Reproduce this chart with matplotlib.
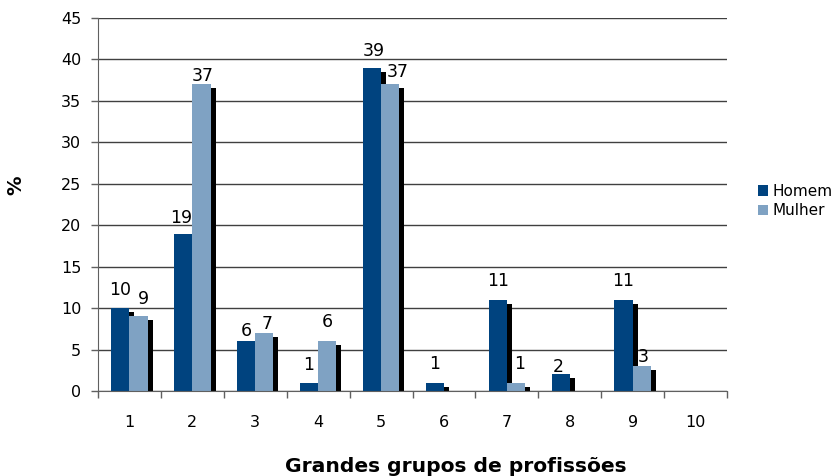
import numpy as np
import matplotlib
matplotlib.use('Agg')
import matplotlib.pyplot as plt

# grandes grupos de profissoes (1-10), % por sexo
grupos = ['1', '2', '3', '4', '5', '6', '7', '8', '9', '10']
homem = [10, 19, 6, 1, 39, 1, 11, 2, 11, 0]
mulher = [9, 37, 7, 6, 37, 0, 1, 0, 3, 0]

# label nudges in px (dx, gap above bar), the labels in the original sit unevenly
nudge_homem = [(0, 13), (-2, 11), (0, 5), (0, 13), (2, 12), (0, 14), (0, 14), (-2, 2), (0, 14), (0, 14)]
nudge_mulher = [(5, 12), (1, 3), (3, 4), (0, 14), (8, 7), (0, 14), (4, 14), (0, 14), (1, 4), (0, 14)]

cor_homem = '#00437F'
cor_mulher = '#7FA2C3'

plt.rcParams['font.family'] = ['DejaVu Sans']

fig = plt.figure(figsize=(8.34, 4.76), dpi=100)
ax = fig.add_axes([98/834, 85/476, 629/834, 373/476])

x = np.arange(len(grupos)) + 0.5
w = 0.29
dx = 5/62.9          # shadow offset (5 px to the right)
dy = 4/373*45        # shadow offset (4 px down)

# black shadows behind the bars, like old excel
for serie, off in [(homem, -w), (mulher, 0)]:
    for xi, v in zip(x, serie):
        if v > 0:
            ax.bar(xi + off + dx, max(v - dy, 0), w, align='edge', color='black', zorder=1)

ax.bar(x - w, homem, w, align='edge', color=cor_homem, zorder=2, label='Homem')
ax.bar(x, mulher, w, align='edge', color=cor_mulher, zorder=2, label='Mulher')

# value labels (zeros not shown)
px = 0.72  # points per pixel at 100 dpi
for serie, off, nudges in [(homem, -w/2, nudge_homem), (mulher, w/2, nudge_mulher)]:
    for xi, v, (nx, ny) in zip(x, serie, nudges):
        if v > 0:
            ax.annotate(str(v), (xi + off, v), xytext=(nx*px, ny*px), textcoords='offset points',
                        ha='center', va='baseline', fontsize=12.5, zorder=3)

ax.set_xlim(0, 10)
ax.set_ylim(0, 45)
ax.set_yticks(range(0, 46, 5))
ax.yaxis.grid(True, color='#404040', linewidth=1)
ax.set_axisbelow(True)

ax.set_xticks(np.arange(0, 11), minor=False)
ax.set_xticklabels([])
ax.set_xticks(x, minor=True)
ax.set_xticklabels(grupos, minor=True)
ax.tick_params(axis='x', which='major', length=5, color='#606060', width=1)
ax.tick_params(axis='x', which='minor', length=0, pad=17, labelsize=11.5)
ax.tick_params(axis='y', length=5, color='#606060', width=1, pad=7, labelsize=11.5)

for s in ['top', 'right']:
    ax.spines[s].set_visible(False)
ax.spines['left'].set_color('#606060')
ax.spines['bottom'].set_color('#606060')

fig.text(456/834, 4/476, 'Grandes grupos de profissões', ha='center', va='baseline',
         fontsize=14.6, fontweight='bold')
fig.text(16/834, 1 - 185/476, '%', rotation=90, ha='center', va='center',
         fontsize=14, fontweight='bold')

leg = fig.legend(loc='upper left', bbox_to_anchor=(750/834, 1 - 176/476), frameon=False,
                 fontsize=11, handlelength=0.7, handleheight=0.7, handletextpad=0.3,
                 labelspacing=0.3, borderpad=0)

plt.savefig('out.png', dpi=100)
